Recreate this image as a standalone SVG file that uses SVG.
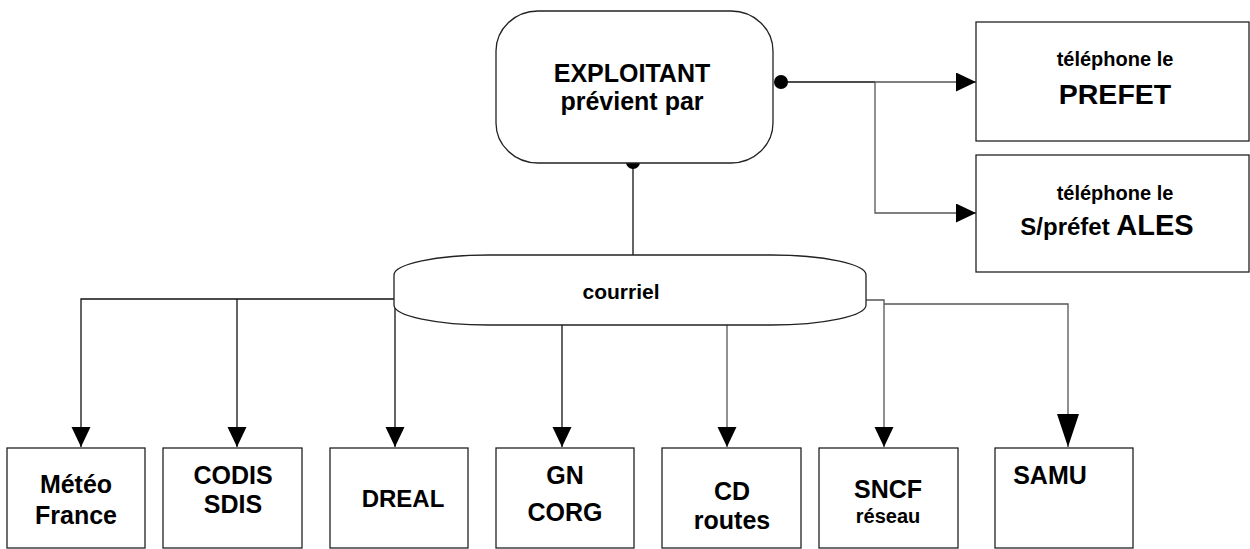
<svg xmlns="http://www.w3.org/2000/svg" width="1250" height="549" viewBox="0 0 1250 549">
<style>
.box{fill:#fff;stroke:#222;stroke-width:1.3}
.t{font-family:"Liberation Sans",Arial,sans-serif;font-weight:bold;fill:#000;text-anchor:middle}
.c{fill:none;stroke:#111;stroke-width:1.3}
.g{fill:none;stroke:#555;stroke-width:1.3}
</style>
<defs>
<marker id="arr" markerUnits="userSpaceOnUse" markerWidth="21" markerHeight="20" refX="20" refY="9.5" orient="auto">
<path d="M0,0 L20,9.5 L0,19 z" fill="#000"/>
</marker>
<marker id="arrBig" markerUnits="userSpaceOnUse" markerWidth="34" markerHeight="23" refX="33" refY="11" orient="auto">
<path d="M0,0 L33,11 L0,22 z" fill="#000"/>
</marker>
</defs>
<g id="connectors">
<line class="c" x1="781" y1="82" x2="875" y2="82"/>
<path class="g" d="M875,82 L976,82" marker-end="url(#arr)"/>
<path class="g" d="M875,82 L875,213 L976,213" marker-end="url(#arr)"/>
<line class="c" x1="633" y1="163" x2="633" y2="255"/>
<path class="c" d="M395,299 L81,299 L81,447" marker-end="url(#arr)"/>
<path class="c" d="M237,299 L237,447" marker-end="url(#arr)"/>
<path class="c" d="M395,300 L395,447" marker-end="url(#arr)"/>
<path class="c" d="M562,325 L562,447" marker-end="url(#arr)"/>
<path class="g" d="M727,325 L727,447" marker-end="url(#arr)"/>
<path class="g" d="M866,300 L884,300 L884,447" marker-end="url(#arr)"/>
<path class="g" d="M884,304 L1068,304 L1068,447" marker-end="url(#arrBig)"/>
<circle cx="781" cy="82" r="7" fill="#000"/>
<circle cx="633" cy="162" r="7" fill="#000"/>
</g>
<g id="exploitant">
<rect class="box" x="496" y="11" width="277" height="152" rx="42" ry="40"/>
<text class="t" x="632" y="82" font-size="25">EXPLOITANT</text>
<text class="t" x="632" y="110" font-size="25">prévient par</text>
</g>
<g id="prefet">
<rect class="box" x="976" y="22" width="273" height="119"/>
<text class="t" x="1115" y="66" font-size="20">téléphone le</text>
<text class="t" x="1115" y="104" font-size="28.5">PREFET</text>
</g>
<g id="sousprefet">
<rect class="box" x="976" y="155" width="273" height="117"/>
<text class="t" x="1115" y="200" font-size="20">téléphone le</text>
<text class="t" x="1107" y="235"><tspan font-size="24">S/préfet </tspan><tspan font-size="29">ALES</tspan></text>
</g>
<g id="courriel">
<rect class="box" x="394" y="255" width="472" height="70" rx="95" ry="20"/>
<text class="t" x="621" y="299" font-size="21">courriel</text>
</g>
<g id="meteo">
<rect class="box" x="7" y="448" width="138" height="100"/>
<text class="t" x="76" y="493" font-size="25">Météo</text>
<text class="t" x="76" y="524" font-size="25">France</text>
</g>
<g id="codis">
<rect class="box" x="163" y="448" width="139" height="100"/>
<text class="t" x="233" y="484" font-size="25">CODIS</text>
<text class="t" x="233" y="513" font-size="25">SDIS</text>
</g>
<g id="dreal">
<rect class="box" x="330" y="448" width="138" height="100"/>
<text class="t" x="403" y="507" font-size="24">DREAL</text>
</g>
<g id="gn">
<rect class="box" x="496" y="448" width="138" height="100"/>
<text class="t" x="565" y="484" font-size="25">GN</text>
<text class="t" x="565" y="521" font-size="25">CORG</text>
</g>
<g id="cd">
<rect class="box" x="662" y="448" width="139" height="100"/>
<text class="t" x="732" y="500" font-size="25">CD</text>
<text class="t" x="732" y="529" font-size="25">routes</text>
</g>
<g id="sncf">
<rect class="box" x="819" y="448" width="139" height="100"/>
<text class="t" x="888" y="498" font-size="25">SNCF</text>
<text class="t" x="888" y="523" font-size="20">réseau</text>
</g>
<g id="samu">
<rect class="box" x="995" y="448" width="138" height="100"/>
<text class="t" x="1050" y="484" font-size="25">SAMU</text>
</g>
</svg>
